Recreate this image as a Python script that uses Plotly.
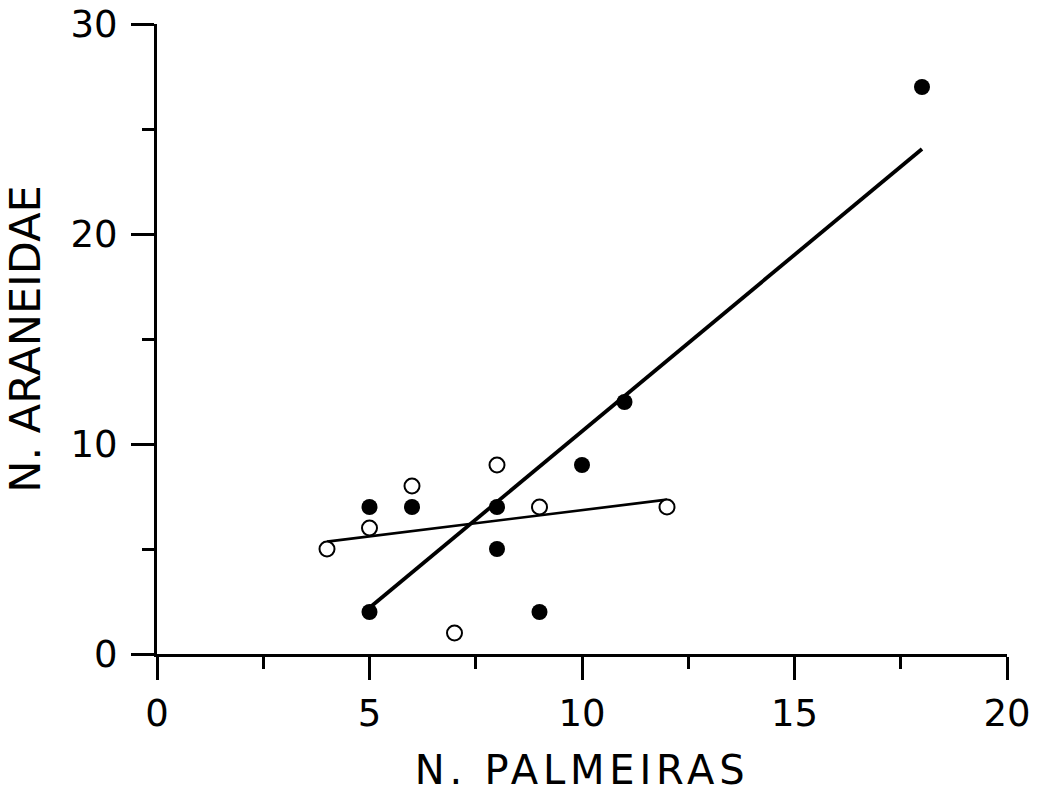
import plotly.graph_objects as go

# Filled circles
filled_x = [5, 6, 8, 8, 5, 9, 10, 11, 18]
filled_y = [7, 7, 7, 5, 2, 2, 9, 12, 27]
# Open circles
open_x = [4, 5, 6, 8, 9, 12, 7]
open_y = [5, 6, 8, 9, 7, 7, 1]
# Fitted lines (endpoints)
fit_filled_x = [5, 18]
fit_filled_y = [2.2, 24.05]
fit_open_x = [4, 12]
fit_open_y = [5.35, 7.35]

x_title = "N. PALMEIRAS"
y_title = "N. ARANEIDAE"

FONT = "DejaVu Sans, Liberation Sans, Arial, sans-serif"

fig = go.Figure()
fig.add_trace(go.Scatter(x=fit_filled_x, y=fit_filled_y, mode="lines",
                         line=dict(color="black", width=3.8), showlegend=False))
fig.add_trace(go.Scatter(x=fit_open_x, y=fit_open_y, mode="lines",
                         line=dict(color="black", width=2.6), showlegend=False))
fig.add_trace(go.Scatter(x=open_x, y=open_y, mode="markers",
                         marker=dict(size=15, color="white", symbol="circle",
                                     line=dict(color="black", width=2)),
                         showlegend=False))
fig.add_trace(go.Scatter(x=filled_x, y=filled_y, mode="markers",
                         marker=dict(size=16, color="black", symbol="circle",
                                     line=dict(color="black", width=0)),
                         showlegend=False))

axis_common = dict(showline=True, linecolor="black", linewidth=3,
                   ticks="outside", tickcolor="black", tickwidth=3, ticklen=23,
                   showgrid=False, zeroline=False,
                   tickfont=dict(family=FONT, size=37, color="black"),
                   ticklabeloverflow="allow",
                   mirror=False)

fig.update_xaxes(range=[0, 20], tick0=0, dtick=5,
                 minor=dict(ticks="outside", ticklen=12, tickwidth=3, tickcolor="black",
                            dtick=2.5, tick0=0, showgrid=False),
                 ticklabelstandoff=2,
                 title=dict(text='<span style="letter-spacing:4.8px">' + x_title + '</span>',
                            font=dict(family=FONT, size=40, color="black"),
                            standoff=22),
                 **axis_common)
fig.update_yaxes(range=[0, 30], tick0=0, dtick=10,
                 minor=dict(ticks="outside", ticklen=12, tickwidth=3, tickcolor="black",
                            dtick=5, tick0=0, showgrid=False),
                 ticklabelstandoff=6,
                 title=dict(text=y_title, font=dict(family=FONT, size=43, color="black"),
                            standoff=24),
                 **axis_common)

fig.update_layout(width=1038, height=799,
                  margin=dict(l=157, r=31, t=24, b=145, autoexpand=False),
                  plot_bgcolor="white", paper_bgcolor="white")

fig.write_html("out.html",
               config={"displayModeBar": False, "staticPlot": True},
               post_script="document.body.style.margin='0';document.body.style.overflow='hidden';")
